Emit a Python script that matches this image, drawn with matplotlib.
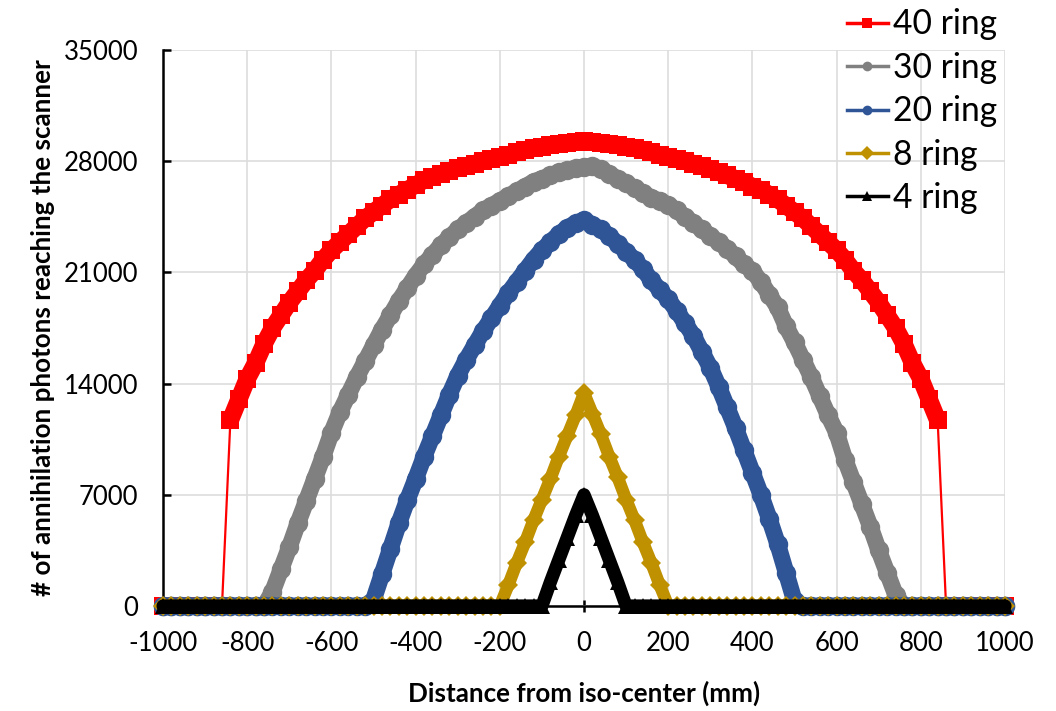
import numpy as np
import matplotlib
matplotlib.use('Agg')
import matplotlib.pyplot as plt
from matplotlib.lines import Line2D

plt.rcParams['font.family'] = ['Lato', 'DejaVu Sans']
plt.rcParams['axes.unicode_minus'] = False

# Sample positions along the scanner axis (mm), every 20 mm
distance = np.arange(-1000, 1001, 20)

ring40 = [
    0, 0, 0, 0, 0, 0, 0, 0,
    11700, 13000, 14300, 15300, 16500, 17500, 18300, 19100, 19800, 20500,
    21100, 21800, 22400, 22900, 23400, 23900, 24400, 24800, 25200, 25600,
    25900, 26200, 26500, 26800, 27000, 27200, 27400, 27550, 27700, 27850,
    28000, 28150, 28250, 28400, 28550, 28700, 28800, 28900, 29000, 29100,
    29150, 29200, 29250,
    29200, 29150, 29100, 29000, 28900, 28800, 28700, 28550, 28400, 28250,
    28150, 28000, 27850, 27700, 27500, 27300, 27100, 26900, 26700, 26400,
    26200, 25900, 25600, 25200, 24800, 24400, 23900, 23400, 22900, 22400,
    21800, 21100, 20500, 19800, 19100, 18300, 17500, 16500, 15300, 14300,
    13000, 11700,
    0, 0, 0, 0, 0, 0, 0, 0,
]

ring30 = [
    0, 0, 0, 0, 0, 0, 0, 0, 0, 0, 0, 0, 0,
    900, 2300, 3700, 5200, 6600, 8000, 9400, 10900, 12200, 13300,
    14400, 15400, 16400, 17400, 18300, 19200, 20000, 20800, 21500, 22100,
    22700, 23200, 23700, 24100, 24500, 24900, 25200, 25500, 25800, 26100,
    26400, 26700, 26900, 27100, 27300, 27450, 27550, 27650,
    27700, 27500, 27200, 26900, 26600, 26300, 26000, 25700, 25500, 25250,
    24900, 24500, 24100, 23700, 23300, 22900, 22500, 22000, 21500, 21100,
    20400, 19600, 18800, 17600, 16600, 15500, 14400, 13200, 12000, 10900,
    9200, 7800, 6400, 5000, 3500, 2100, 700,
    0, 0, 0, 0, 0, 0, 0, 0, 0, 0, 0, 0, 0,
]

ring20 = [
    0, 0, 0, 0, 0, 0, 0, 0, 0, 0, 0, 0, 0, 0, 0, 0, 0, 0, 0, 0, 0, 0, 0, 0,
    0, 400, 2000, 3600, 5200, 6650, 8000, 9400, 10700, 12000, 13300, 14500,
    15500, 16400, 17300, 18100, 18900, 19700, 20400, 21100, 21800, 22400,
    22900, 23400, 23800, 24100, 24300,
    24000, 23700, 23300, 22800, 22300, 21800, 21200, 20500, 19900, 19300,
    18600, 17800, 17000, 16000, 15000, 13800, 12500, 11200, 9800, 8400,
    7000, 5500, 3900, 2100, 300,
    0, 0, 0, 0, 0, 0, 0, 0, 0, 0, 0, 0, 0, 0, 0, 0, 0, 0, 0, 0, 0, 0, 0, 0,
    0,
]

ring8 = [0] * 40 + [
    0, 1300, 2700, 4000, 5400, 6700, 8000, 9400, 10700, 12000, 13400,
    12100, 10800, 9400, 8100, 6700, 5400, 4000, 2700, 1300, 0,
] + [0] * 40

ring4 = [0] * 45 + [
    0, 1500, 2900, 4300, 5700, 7000, 5700, 4300, 2900, 1500, 0,
] + [0] * 45

# label, values, colour, marker, marker size, band width
series = [
    ('40 ring', ring40, '#FF0000', 's', 13, 12.5),
    ('30 ring', ring30, '#808080', 'o', 14, 12),
    ('20 ring', ring20, '#2F5597', 'o', 14, 12),
    ('8 ring', ring8, '#BF9000', 'D', 10, 9),
    ('4 ring', ring4, '#000000', '^', 12, 9.5),
]

fig = plt.figure(figsize=(10.56, 7.11), dpi=100)
ax = fig.add_axes([0.1544, 0.1477, 0.7973, 0.782])

for label, values, color, marker, ms, band in series:
    values = np.array(values, dtype=float)
    if label == '40 ring':
        # the jump down to zero at the scanner edge is a thin line
        band_values = np.where(values > 0, values, np.nan)
    else:
        band_values = values
    ax.plot(distance, band_values, color=color, lw=band, solid_joinstyle='round',
            solid_capstyle='round', clip_on=False, zorder=3)
    ax.plot(distance, values, color=color, lw=1.6, marker=marker,
            markersize=ms, markeredgewidth=0, clip_on=False, zorder=3)

ax.set_xlim(-1000, 1000)
ax.set_ylim(0, 35000)
ax.set_xticks(np.arange(-1000, 1001, 200))
ax.set_yticks(np.arange(0, 35001, 7000))
ax.grid(True, color='#DDDDDD', lw=1.2)
ax.set_axisbelow(True)

for side in ['top', 'right']:
    ax.spines[side].set_visible(False)
ax.spines['left'].set_linewidth(1.8)
ax.spines['bottom'].set_linewidth(1.8)

ax.tick_params(axis='y', direction='in', length=6, width=1.8, pad=18, labelsize=18.5)
ax.tick_params(axis='x', direction='inout', length=8, width=1.8, pad=14, labelsize=18.5)

ax.set_xlabel('Distance from iso-center (mm)', fontsize=18.7, fontweight='bold', labelpad=18)
ax.set_ylabel('# of annihilation photons reaching the scanner', fontsize=18.7,
              fontweight='bold', labelpad=6)

handles = [Line2D([], [], color=c, lw=2.5, marker=m, markersize=7, markeredgewidth=0)
           for _, _, c, m, _, _ in series]
labels = [s[0] for s in series]
fig.legend(handles, labels, loc='upper left', bbox_to_anchor=(0.796, 0.9976),
           borderaxespad=0, frameon=False, fontsize=24.2, handlelength=1.2,
           handletextpad=0.17, labelspacing=0.34, borderpad=0.2)

fig.savefig('out.png', dpi=100)
